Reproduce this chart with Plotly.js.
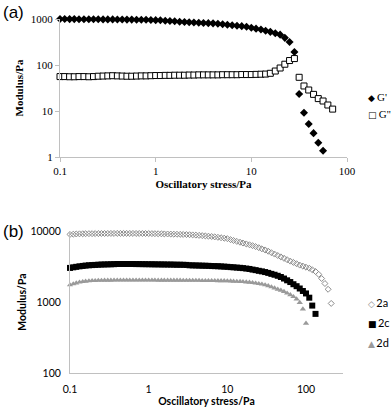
<!DOCTYPE html>
<html>
<head>
<meta charset="utf-8">
<script src="https://cdn.plot.ly/plotly-3.0.1.min.js"></script>
<style>html,body{margin:0;padding:0;background:#fff;}#chart{width:392px;height:412px;}</style>
</head>
<body>
<div id="chart"></div>
<script>
// ---------- Panel (a) ----------
const stressA = [0.1, 0.112, 0.126, 0.141, 0.158, 0.178, 0.2, 0.224, 0.251, 0.282,
  0.316, 0.355, 0.398, 0.447, 0.501, 0.562, 0.631, 0.708, 0.794, 0.891,
  1, 1.12, 1.26, 1.41, 1.58, 1.78, 2, 2.24, 2.51, 2.82,
  3.16, 3.55, 3.98, 4.47, 5.01, 5.62, 6.31, 7.08, 7.94, 8.91,
  10, 11.2, 12.6, 14.1, 15.8, 17.8, 20, 22.4, 25.1, 28.2,
  31.6, 35.5, 39.8, 44.7, 50.1, 56.2, 63.1, 70.8];
const gStorage = [1000, 1000, 995, 995, 990, 990, 990, 985, 985, 980,
  980, 980, 975, 975, 970, 970, 965, 960, 960, 955,
  945, 935, 920, 905, 890, 875, 861, 851, 841, 832,
  822, 813, 804, 785, 767, 750, 733, 716, 700, 676,
  646, 617, 589, 556, 525, 490, 457, 389, 316, 191,
  23.4, 9.2, 5.2, 3.3, 2.05, 1.37];
const gLoss = [56, 56, 55.5, 55.5, 56, 56, 55.5, 56, 57, 57.5,
  58, 58.5, 58, 57.5, 57, 57, 57.5, 58, 58, 58.5,
  59, 59, 59.5, 59.5, 60, 60, 60, 60.5, 60.5, 61,
  61, 61, 61, 61, 61.5, 61.5, 61.5, 61.5, 62, 62,
  62, 62.5, 63, 63.5, 66, 74, 86, 104, 125, 138,
  54, 35, 28.6, 23, 18.6, 16.5, 13.5, 11];
const namesA = ["G'", "G''"];

// ---------- Panel (b) ----------
const stressB = [0.1, 0.110, 0.120, 0.132, 0.145, 0.158, 0.174, 0.191, 0.209, 0.229,
  0.251, 0.275, 0.302, 0.331, 0.363, 0.398, 0.437, 0.479, 0.525, 0.575,
  0.631, 0.692, 0.759, 0.832, 0.912, 1, 1.10, 1.20, 1.32, 1.45,
  1.58, 1.74, 1.91, 2.09, 2.29, 2.51, 2.75, 3.02, 3.31, 3.63,
  3.98, 4.37, 4.79, 5.25, 5.75, 6.31, 6.92, 7.59, 8.32, 9.12,
  10, 11.0, 12.0, 13.2, 14.5, 15.8, 17.4, 19.1, 20.9, 22.9,
  25.1, 27.5, 30.2, 33.1, 36.3, 39.8, 43.7, 47.9, 52.5, 57.5,
  63.1, 69.2, 75.9, 83.2, 91.2, 100, 110, 120, 132, 145,
  158, 174, 191, 209];
const mod2a = [8950, 9020, 9080, 9120, 9140, 9160, 9180, 9180, 9200, 9210,
  9220, 9230, 9230, 9240, 9240, 9250, 9250, 9250, 9250, 9240,
  9240, 9230, 9230, 9220, 9220, 9210, 9190, 9170, 9150, 9130,
  9100, 9080, 9050, 9020, 9000, 8970, 8940, 8910, 8870, 8810,
  8750, 8680, 8610, 8530, 8450, 8360, 8260, 8150, 8040, 7920,
  7800, 7550, 7350, 7140, 6950, 6760, 6580, 6400, 6220, 6030,
  5820, 5610, 5410, 5190, 4950, 4730, 4520, 4320, 4120, 3940,
  3760, 3610, 3460, 3310, 3200, 3090, 2990, 2850, 2690, 2450,
  2140, 1820, 1510, 955];
const mod2c = [3020, 3080, 3130, 3180, 3220, 3260, 3290, 3310, 3330, 3350,
  3370, 3380, 3390, 3400, 3410, 3430, 3430, 3430, 3430, 3430,
  3430, 3420, 3420, 3410, 3410, 3400, 3400, 3390, 3390, 3380,
  3380, 3370, 3370, 3360, 3350, 3350, 3340, 3330, 3290, 3280,
  3270, 3260, 3250, 3240, 3230, 3210, 3200, 3190, 3170, 3150,
  3130, 3100, 3080, 3050, 3030, 3000, 2960, 2920, 2860, 2810,
  2750, 2700, 2640, 2570, 2490, 2420, 2340, 2250, 2140, 2020,
  1910, 1780, 1670, 1550, 1430, 1320, 1150, 890, 680];
const mod2d = [1740, 1800, 1850, 1900, 1930, 1960, 1980, 2000, 2000, 2010,
  2010, 2020, 2020, 2020, 2030, 2030, 2030, 2030, 2030, 2030,
  2030, 2030, 2030, 2030, 2030, 2030, 2030, 2030, 2020, 2020,
  2020, 2020, 2020, 2020, 2020, 2020, 2010, 2010, 2010, 2010,
  2010, 2010, 2000, 2000, 2000, 2000, 2000, 1990, 1990, 1990,
  1980, 1970, 1960, 1950, 1940, 1930, 1910, 1890, 1870, 1840,
  1810, 1780, 1740, 1690, 1630, 1570, 1510, 1460, 1400, 1330,
  1260, 1190, 1100, 980, 795, 500];
const namesB = ['2a', '2c', '2d'];

const xTicks = [0.1, 1, 10, 100];
const xTickText = ['0.1', '1', '10', '100'];
const yTicksA = [1, 10, 100, 1000];
const yTickTextA = ['1', '10', '100', '1000'];
const yTicksB = [100, 1000, 10000];
const yTickTextB = ['100', '1000', '10000'];

const W = 392, H = 412;
const px = v => v / W;
const py = v => 1 - v / H;

const serif = 'Liberation Serif, Times New Roman, serif';
const sans = 'Lato, Liberation Sans, Arial, sans-serif';

const traces = [
  {x: stressA, y: gStorage, name: namesA[0], type: 'scatter', mode: 'markers', xaxis: 'x', yaxis: 'y',
   cliponaxis: false,
   marker: {symbol: 'diamond', size: 6.2, color: '#000', line: {width: 0}}},
  {x: stressA, y: gLoss, name: namesA[1], type: 'scatter', mode: 'markers', xaxis: 'x', yaxis: 'y',
   cliponaxis: false,
   marker: {symbol: 'square', size: 6, color: '#fff', line: {width: 1, color: '#000'}}},
  {x: stressB, y: mod2a, name: namesB[0], type: 'scatter', mode: 'markers', xaxis: 'x2', yaxis: 'y2',
   cliponaxis: false,
   marker: {symbol: 'diamond-open', size: 4.6, color: '#8c8c8c', line: {width: 1, color: '#8c8c8c'}}},
  {x: stressB.slice(0, mod2c.length), y: mod2c, name: namesB[1], type: 'scatter', mode: 'markers', xaxis: 'x2', yaxis: 'y2',
   cliponaxis: false,
   marker: {symbol: 'square', size: 6, color: '#000', line: {width: 0}}},
  {x: stressB.slice(0, mod2d.length), y: mod2d, name: namesB[2], type: 'scatter', mode: 'markers', xaxis: 'x2', yaxis: 'y2',
   cliponaxis: false,
   marker: {symbol: 'triangle-up', size: 5.5, color: '#9a9a9a', line: {width: 0}}}
];

const axisCommon = {
  type: 'log', showline: true, linecolor: '#c0c0c0', linewidth: 1,
  showgrid: false, zeroline: false, fixedrange: true
};

const layout = {
  width: W, height: H,
  margin: {l: 0, r: 0, t: 0, b: 0},
  paper_bgcolor: '#fff', plot_bgcolor: 'rgba(0,0,0,0)',
  showlegend: false,
  xaxis: Object.assign({}, axisCommon, {
    domain: [px(60), px(347)], range: [-1, 2], anchor: 'y',
    tickmode: 'array', tickvals: xTicks, ticktext: xTickText,
    ticks: 'outside', ticklen: 4, tickcolor: '#c0c0c0',
    tickfont: {family: serif, size: 11, color: '#000'},
    title: {text: '<b>Oscillatory stress/Pa</b>', standoff: 4, font: {family: serif, size: 11, color: '#000'}}
  }),
  yaxis: Object.assign({}, axisCommon, {
    domain: [py(157), py(19)], range: [0, 3], anchor: 'x',
    tickmode: 'array', tickvals: yTicksA, ticktext: yTickTextA,
    ticks: 'outside', ticklen: 4, tickcolor: '#c0c0c0',
    tickfont: {family: serif, size: 11, color: '#000'},
    title: {text: '<b>Modulus/Pa</b>', standoff: 4, font: {family: serif, size: 11, color: '#000'}}
  }),
  xaxis2: Object.assign({}, axisCommon, {
    domain: [px(70), px(343)], range: [-1, 2.47], anchor: 'y2',
    tickmode: 'array', tickvals: xTicks, ticktext: xTickText,
    ticks: 'outside', ticklen: 6, tickcolor: 'rgba(0,0,0,0)',
    tickfont: {family: sans, size: 10.5, color: '#000'},
    title: {text: '<b>Oscillatory stress/Pa</b>', standoff: 2, font: {family: sans, size: 10.5, color: '#000'}}
  }),
  yaxis2: Object.assign({}, axisCommon, {
    domain: [py(373), py(231)], range: [2, 4], anchor: 'x2',
    tickmode: 'array', tickvals: yTicksB, ticktext: yTickTextB,
    ticks: 'outside', ticklen: 6, tickcolor: 'rgba(0,0,0,0)',
    tickfont: {family: sans, size: 10.5, color: '#000'},
    title: {text: '<b>Modulus/Pa</b>', standoff: 1, font: {family: sans, size: 10.5, color: '#000'}}
  }),
  annotations: [
    {xref: 'paper', yref: 'paper', x: px(1), y: py(13), xanchor: 'left', yanchor: 'middle',
     text: '(a)', showarrow: false, font: {family: 'Liberation Sans, Arial, sans-serif', size: 17, color: '#000'}},
    {xref: 'paper', yref: 'paper', x: px(1), y: py(231), xanchor: 'left', yanchor: 'middle',
     text: '(b)', showarrow: false, font: {family: 'Liberation Sans, Arial, sans-serif', size: 17, color: '#000'}},
    // legend (a)
    {xref: 'paper', yref: 'paper', x: px(366), y: py(97), xanchor: 'left', yanchor: 'middle', showarrow: false,
     text: '<span style="font-family:DejaVu Sans;font-size:9px">◆</span>&#8201;' + namesA[0],
     font: {family: serif, size: 11, color: '#000'}},
    {xref: 'paper', yref: 'paper', x: px(366), y: py(114), xanchor: 'left', yanchor: 'middle', showarrow: false,
     text: '<span style="font-family:DejaVu Sans;font-size:9px">□</span>&#8201;' + namesA[1],
     font: {family: serif, size: 11, color: '#000'}},
    // legend (b)
    {xref: 'paper', yref: 'paper', x: px(366), y: py(302), xanchor: 'left', yanchor: 'middle', showarrow: false,
     text: '<span style="font-family:DejaVu Sans;font-size:9px;color:#8c8c8c">◇</span>&#8201;' + namesB[0],
     font: {family: sans, size: 11, color: '#000'}},
    {xref: 'paper', yref: 'paper', x: px(366), y: py(322), xanchor: 'left', yanchor: 'middle', showarrow: false,
     text: '<span style="font-family:DejaVu Sans;font-size:9px">■</span>&#8201;' + namesB[1],
     font: {family: sans, size: 11, color: '#000'}},
    {xref: 'paper', yref: 'paper', x: px(366), y: py(342), xanchor: 'left', yanchor: 'middle', showarrow: false,
     text: '<span style="font-family:DejaVu Sans;font-size:9px;color:#9a9a9a">▲</span>&#8201;' + namesB[2],
     font: {family: sans, size: 11, color: '#000'}}
  ]
};

Plotly.newPlot('chart', traces, layout, {staticPlot: true, displayModeBar: false});
</script>
</body>
</html>
